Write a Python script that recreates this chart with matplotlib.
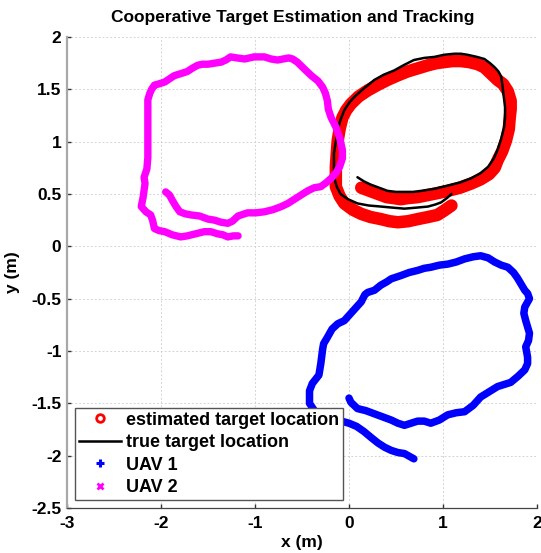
import matplotlib
matplotlib.use("Agg")
import matplotlib.pyplot as plt
from matplotlib.lines import Line2D

# ── Trajectories (metres) ─────────────────────────────────────────────────
est_x = [0.13, 0.22, 0.31, 0.40, 0.48, 0.55, 0.62, 0.73, 0.84, 0.95, 1.05, 1.18,
         1.30, 1.40, 1.49, 1.55, 1.58, 1.63, 1.67, 1.70, 1.71, 1.72, 1.72, 1.69,
         1.64, 1.58, 1.51, 1.44, 1.37, 1.28, 1.19, 1.10, 1.01, 0.93, 0.84, 0.73,
         0.62, 0.51, 0.41, 0.30, 0.20, 0.10, 0.02, -0.03, -0.07, -0.10, -0.12,
         -0.13, -0.14, -0.14, -0.14, -0.10, -0.05, 0.04, 0.13, 0.23, 0.34, 0.43,
         0.52, 0.63, 0.73, 0.84, 0.94, 1.01, 1.09]
est_y = [0.56, 0.53, 0.50, 0.47, 0.46, 0.45, 0.46, 0.47, 0.49, 0.51, 0.53, 0.56,
         0.60, 0.64, 0.69, 0.75, 0.82, 0.91, 1.01, 1.12, 1.23, 1.31, 1.39, 1.48,
         1.55, 1.59, 1.65, 1.71, 1.74, 1.76, 1.77, 1.77, 1.76, 1.75, 1.73, 1.70,
         1.67, 1.63, 1.59, 1.54, 1.49, 1.43, 1.36, 1.30, 1.23, 1.12, 1.01, 0.89,
         0.76, 0.66, 0.57, 0.48, 0.41, 0.35, 0.31, 0.28, 0.26, 0.24, 0.23, 0.24,
         0.26, 0.28, 0.30, 0.34, 0.39]

true_x = [0.09, 0.16, 0.23, 0.32, 0.41, 0.50, 0.59, 0.68, 0.77, 0.91, 1.05, 1.18,
          1.30, 1.40, 1.48, 1.54, 1.58, 1.62, 1.65, 1.66, 1.66, 1.64, 1.62, 1.59,
          1.55, 1.50, 1.44, 1.36, 1.26, 1.19, 1.12, 1.01, 0.91, 0.80, 0.69, 0.58,
          0.48, 0.37, 0.27, 0.16, 0.06, 0.00, -0.05, -0.09, -0.12, -0.14, -0.16,
          -0.16, -0.16, -0.13, -0.09, -0.01, 0.09, 0.21, 0.34, 0.46, 0.59, 0.72,
          0.84, 0.92, 0.98, 1.04, 1.09]
true_y = [0.66, 0.62, 0.59, 0.56, 0.53, 0.52, 0.52, 0.52, 0.53, 0.55, 0.58, 0.61,
          0.65, 0.70, 0.76, 0.84, 0.92, 1.03, 1.14, 1.23, 1.33, 1.48, 1.62, 1.67,
          1.71, 1.75, 1.79, 1.81, 1.83, 1.84, 1.84, 1.83, 1.81, 1.80, 1.78, 1.73,
          1.68, 1.64, 1.59, 1.51, 1.43, 1.37, 1.30, 1.21, 1.11, 1.00, 0.89, 0.77,
          0.66, 0.57, 0.50, 0.45, 0.41, 0.39, 0.38, 0.37, 0.36, 0.37, 0.38, 0.40,
          0.42, 0.46, 0.50]

uav1_x = [0.00, 0.02, 0.09, 0.18, 0.27, 0.36, 0.45, 0.52, 0.59, 0.66, 0.73, 0.80,
          0.87, 0.96, 1.05, 1.14, 1.23, 1.32, 1.40, 1.49, 1.58, 1.65, 1.72, 1.80,
          1.87, 1.90, 1.90, 1.88, 1.91, 1.92, 1.90, 1.88, 1.86, 1.87, 1.92, 1.90,
          1.87, 1.83, 1.79, 1.75, 1.69, 1.62, 1.55, 1.48, 1.40, 1.32, 1.23, 1.14,
          1.05, 0.96, 0.87, 0.80, 0.73, 0.64, 0.55, 0.45, 0.40, 0.34, 0.27, 0.20,
          0.17, 0.13, 0.08, 0.02, -0.05, -0.12, -0.18, -0.23, -0.27, -0.28, -0.29,
          -0.30, -0.32, -0.39, -0.42, -0.42, -0.36, -0.20, -0.08, 0.00, 0.08, 0.16,
          0.24, 0.31, 0.38, 0.45, 0.52, 0.59, 0.69]
uav1_y = [-1.45, -1.49, -1.55, -1.57, -1.60, -1.63, -1.66, -1.69, -1.71, -1.69,
          -1.67, -1.67, -1.69, -1.66, -1.61, -1.59, -1.58, -1.52, -1.44, -1.39,
          -1.34, -1.32, -1.30, -1.24, -1.18, -1.12, -1.06, -0.96, -0.90, -0.83,
          -0.77, -0.71, -0.64, -0.58, -0.50, -0.45, -0.42, -0.36, -0.30, -0.25,
          -0.20, -0.18, -0.15, -0.11, -0.09, -0.10, -0.12, -0.15, -0.17, -0.18,
          -0.20, -0.21, -0.23, -0.25, -0.28, -0.31, -0.34, -0.37, -0.42, -0.44,
          -0.46, -0.53, -0.58, -0.64, -0.71, -0.74, -0.79, -0.87, -0.93, -0.98,
          -1.05, -1.12, -1.23, -1.31, -1.38, -1.50, -1.58, -1.64, -1.67, -1.69,
          -1.72, -1.77, -1.83, -1.88, -1.92, -1.95, -1.97, -1.98, -2.03]

uav2_x = [-1.95, -1.91, -1.88, -1.84, -1.80, -1.74, -1.68, -1.59, -1.50, -1.43,
          -1.36, -1.29, -1.24, -1.18, -1.08, -0.99, -0.90, -0.81, -0.72, -0.65,
          -0.58, -0.51, -0.44, -0.37, -0.30, -0.24, -0.19, -0.14, -0.10, -0.07,
          -0.07, -0.10, -0.14, -0.19, -0.22, -0.23, -0.25, -0.28, -0.33, -0.40,
          -0.47, -0.55, -0.60, -0.64, -0.70, -0.76, -0.83, -0.90, -0.95, -1.01,
          -1.06, -1.11, -1.19, -1.26, -1.31, -1.36, -1.43, -1.50, -1.56, -1.61,
          -1.67, -1.72, -1.79, -1.86, -1.91, -1.96, -2.03, -2.07, -2.10, -2.12,
          -2.14, -2.14, -2.14, -2.14, -2.14, -2.14, -2.15, -2.18, -2.17, -2.19,
          -2.21, -2.16, -2.11, -2.09, -2.07, -2.02, -1.96, -1.88, -1.79, -1.72,
          -1.63, -1.54, -1.47, -1.40, -1.34, -1.29, -1.23, -1.18]
uav2_y = [0.52, 0.49, 0.44, 0.38, 0.33, 0.31, 0.30, 0.29, 0.26, 0.25,
          0.23, 0.22, 0.24, 0.29, 0.32, 0.32, 0.33, 0.35, 0.38, 0.41,
          0.45, 0.49, 0.53, 0.56, 0.57, 0.61, 0.65, 0.70, 0.76, 0.84,
          0.92, 1.04, 1.14, 1.23, 1.31, 1.39, 1.46, 1.52, 1.58, 1.63,
          1.69, 1.76, 1.79, 1.80, 1.79, 1.78, 1.79, 1.81, 1.81, 1.81,
          1.80, 1.79, 1.80, 1.81, 1.78, 1.76, 1.75, 1.74, 1.74, 1.73,
          1.70, 1.67, 1.65, 1.63, 1.60, 1.57, 1.55, 1.54, 1.50, 1.46,
          1.40, 1.33, 1.20, 1.08, 0.96, 0.85, 0.74, 0.66, 0.60, 0.47,
          0.38, 0.33, 0.30, 0.25, 0.17, 0.15, 0.14, 0.11, 0.09, 0.10,
          0.12, 0.14, 0.14, 0.12, 0.11, 0.09, 0.10, 0.10]

x_ticks = [-3, -2, -1, 0, 1, 2]
y_ticks = [-2.5, -2, -1.5, -1, -0.5, 0, 0.5, 1, 1.5, 2]
legend_labels = ["estimated target location", "true target location", "UAV 1", "UAV 2"]

# ── Figure ────────────────────────────────────────────────────────────────
plt.rcParams["font.family"] = ["Liberation Sans", "DejaVu Sans"]
plt.rcParams["font.weight"] = "bold"
FS = 12.5

fig = plt.figure(figsize=(5.41, 5.53), dpi=100, facecolor="white")
ax = fig.add_axes([67 / 541, 1 - 508 / 553, 470 / 541, 471 / 553])

line_kw = dict(solid_capstyle="round", solid_joinstyle="round")
ax.plot(est_x, est_y, color="#ff0000", lw=9.0, zorder=3, **line_kw)
ax.plot(true_x, true_y, color="black", lw=1.8, zorder=4, **line_kw)
ax.plot(uav1_x, uav1_y, color="#0000ff", lw=5.4, zorder=3, **line_kw)
ax.plot(uav2_x, uav2_y, color="#ff00ff", lw=5.3, zorder=5, **line_kw)

ax.set_xlim(-3, 2)
ax.set_ylim(-2.5, 2)
ax.set_xticks(x_ticks)
ax.set_yticks(y_ticks)
ax.set_xticklabels([f"{t:g}" for t in x_ticks])
ax.set_yticklabels([f"{t:g}" for t in y_ticks])
ax.tick_params(direction="in", length=3, width=1, color="#333333",
               labelsize=FS, pad=4)
ax.tick_params(axis="x", pad=6)
for lbl in ax.get_xticklabels() + ax.get_yticklabels():
    lbl.set_fontweight("bold")

ax.grid(True, linestyle=(0, (2, 2)), color="#d4d4d4", lw=0.7, zorder=0)
ax.spines["top"].set_visible(False)
ax.spines["right"].set_visible(False)
ax.spines["left"].set_color("#a8a8a8")
ax.spines["left"].set_linewidth(1.6)
ax.spines["bottom"].set_color("#444444")
ax.spines["bottom"].set_linewidth(0.9)

ax.set_title("Cooperative Target Estimation and Tracking", fontsize=FS,
             fontweight="bold", pad=11, x=0.48)
ax.set_xlabel("x (m)", fontsize=FS, fontweight="bold", labelpad=3)
ax.set_ylabel("y (m)", fontsize=FS, fontweight="bold", labelpad=8)

# ── Legend (proxy handles mimic the MATLAB markers) ───────────────────────
handles = [
    Line2D([], [], ls="none", marker="o", ms=5.5, mfc="none", mec="#ff0000", mew=2),
    Line2D([], [], color="black", lw=1.8),
    Line2D([], [], ls="none", marker="+", ms=6, mec="#0000ff", mew=2.2),
    Line2D([], [], ls="none", marker="x", ms=4.5, mec="#ff00ff", mew=2),
]
leg = ax.legend(handles, legend_labels, loc="lower left",
                bbox_to_anchor=(8 / 470, 8 / 471), borderaxespad=0,
                fontsize=13, frameon=True, fancybox=False, framealpha=1,
                handlelength=2.3, handletextpad=0.3, labelspacing=0.3,
                borderpad=0.22)
leg.get_frame().set_edgecolor("#555555")
leg.get_frame().set_linewidth(1.0)
leg.set_zorder(10)
for t in leg.get_texts():
    t.set_fontweight("bold")

fig.savefig("out.png", dpi=100, facecolor="white")
